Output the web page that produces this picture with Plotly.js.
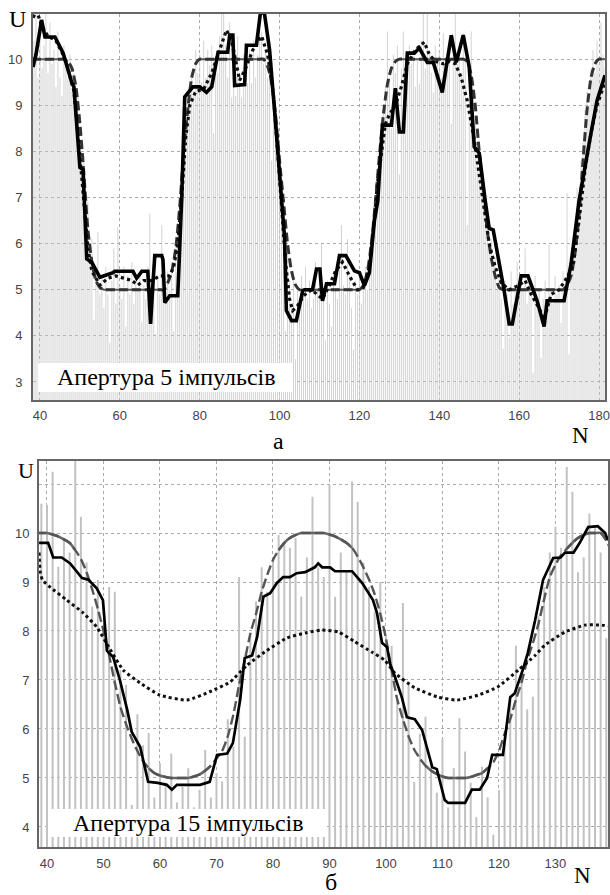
<!DOCTYPE html>
<html><head><meta charset="utf-8">
<script src="https://cdn.plot.ly/plotly-3.0.1.min.js"></script>
<style>html,body{margin:0;padding:0;background:#fff}#chart{width:610px;height:895px}</style>
</head><body><div id="chart"></div>
<script>
// ---------------- TOP PANEL (aperture 5) ----------------
const topTickN = [40, 60, 80, 100, 120, 140, 160, 180];
const topTickU = [3, 4, 5, 6, 7, 8, 9, 10];
const topLabel = "Апертура 5 імпульсів";

// noisy samples, N = 38.5, 39, 39.5 ... 181.5
const topBarStart = 38.5, topBarStep = 0.5;
const topBarU = [
  10.4, 11.2, 9.6, 10.9, 9.8, 10.3, 11.1, 9.7, 10.8, 9.9, 10.2, 9.4, 10.6, 9.6, 9.2, 10.3,
  9.9, 9.6, 10.1, 9.3, 9.7, 8.9, 9.2, 8.2, 7.7, 7.9, 6.6, 6.9, 5.8, 6.1, 4.35, 5.4, 6.25, 4.9,
  5.3, 4.6, 5.5, 4.9, 3.85, 5.2, 5.9, 4.7, 6.35, 5.1, 4.8, 5.5, 4.2, 5.3, 4.9, 5.6,
  4.7, 5.2, 5.0, 5.4, 4.3, 5.1, 4.8, 5.5, 6.65, 4.6, 5.2, 4.05, 5.3, 4.9, 6.4, 5.1,
  4.8, 5.4, 5.0, 5.6, 4.1, 5.9, 6.4, 7.0, 6.6, 8.3, 7.9, 9.2, 8.8, 9.6, 9.3, 10.2, 9.7, 10.1,
  9.5, 10.4, 9.6, 10.2, 9.87, 10.3, 8.4, 10.0, 9.7, 10.5, 11.3, 11.3, 10.3, 9.6, 10.8, 9.17,
  10.2, 9.2, 10.5, 9.7, 9.17, 10.1, 9.5, 9.47, 10.2, 9.48, 10.4, 9.6, 10.1, 11.3, 10.6, 9.9,
  10.2, 9.6, 9.9, 7.8, 9.0, 8.5, 7.9, 7.4, 6.9, 6.3, 4.1, 5.8, 5.2, 4.6, 5.4, 3.5,
  5.1, 4.7, 5.3, 4.9, 5.5, 4.8, 5.2, 4.6, 4.8, 5.6, 5.0, 5.3, 6.0, 4.9, 3.9, 5.2, 4.7,
  4.2, 5.4, 5.0, 4.8, 5.5, 6.4, 5.1, 4.9, 6.1, 5.3, 4.6, 3.7, 5.2, 4.9, 5.4, 4.7, 5.1,
  5.5, 5.0, 5.9, 6.3, 6.8, 6.4, 7.5, 7.9, 8.3, 8.9, 9.4, 10.6, 9.6, 8.5, 10.1, 9.7, 10.3, 7.5,
  9.8, 10.6, 10.1, 9.6, 10.3, 9.9, 10.2, 9.4, 10.0, 9.47, 10.4, 11.3, 9.8, 11.3, 10.1, 9.7, 9.28,
  10.3, 9.9, 10.2, 9.6, 10.56, 10.0, 9.8, 10.3, 8.6, 10.1, 11.3, 9.9, 10.2, 9.7, 10.56, 10.0, 6.4,
  10.0, 10.6, 9.2, 8.7, 8.2, 7.6, 7.9, 7.0, 6.8, 6.3, 5.9, 6.1, 5.5, 5.7, 5.0, 5.3,
  4.8, 3.72, 5.2, 4.9, 3.96, 5.4, 4.7, 5.1, 5.6, 4.8, 5.3, 5.0, 5.9, 4.7, 5.2, 4.9,
  3.2, 5.3, 4.6, 5.0, 3.52, 4.8, 5.2, 4.5, 5.97, 5.0, 4.7, 5.3, 4.9, 5.1, 4.28, 5.4,
  5.0, 7.1, 3.6, 5.6, 6.0, 6.4, 7.2, 6.9, 7.8, 8.2, 8.9, 9.3, 9.0, 9.8, 10.2, 9.7, 10.4, 9.9, 10.8, 10.1, 9.8
];

// true signal, N = 38 ... 182
const topTrueStart = 38;
const topTrueU = [
  10, 10, 10, 10, 10, 10, 10, 10, 10,
  9.95, 9.8, 9.4, 8.6, 7.5, 6.3, 5.6, 5.2, 5.05,
  5, 5, 5, 5, 5, 5, 5, 5, 5, 5, 5, 5, 5, 5, 5, 5,
  5.15, 5.4, 5.9, 6.8, 8.0, 8.9, 9.6, 9.9,
  10, 10, 10, 10, 10, 10, 10, 10, 10, 10, 10, 10, 10, 10, 10, 10, 10,
  9.85, 9.5, 8.8, 7.8, 6.9, 6.0, 5.4, 5.1,
  5, 5, 5, 5, 5, 5, 5, 5, 5, 5, 5, 5, 5, 5, 5, 5,
  5.1, 5.4, 6.0, 6.9, 7.9, 8.8, 9.45, 9.8, 9.95,
  10, 10, 10, 10, 10, 10, 10, 10, 10, 10, 10, 10, 10, 10, 10, 10, 10,
  9.95, 9.65, 9.0, 8.0, 7.2, 6.3, 5.7, 5.3, 5.05,
  5, 5, 5, 5, 5, 5, 5, 5, 5, 5, 5, 5, 5, 5, 5, 5,
  5.1, 5.3, 5.8, 6.6, 7.8, 8.9, 9.6, 9.9,
  10, 10, 10
];

// moving average (solid black)
const topMaN = [38.25, 39.0, 40.4, 41.25, 43.75, 45.8, 48.0, 48.5, 50.0, 50.8, 51.7, 53.0, 55.0, 56.2, 58.3, 58.7, 63.3, 64.2, 65.5, 67.0, 67.7, 68.3, 68.75, 70.5, 70.8, 71.25, 72.5, 74.5, 75.0, 75.5, 76.25, 78.3, 80.0, 81.7, 83.0, 84.2, 84.6, 87.0, 87.5, 88.3, 88.75, 91.25, 91.7, 94.2, 95.2, 96.2, 97.5, 99.2, 100.4, 101.25, 101.7, 103.0, 104.2, 105.8, 106.25, 108.25, 109.25, 110.1, 110.75, 111.75, 113.75, 115.0, 116.6, 118.75, 120.0, 121.25, 122.5, 123.75, 124.6, 125.75, 128.0, 129.0, 130.0, 131.0, 132.0, 133.75, 135.0, 137.0, 138.5, 140.75, 143.0, 144.25, 146.0, 147.5, 148.75, 150.0, 151.5, 152.5, 153.5, 156.25, 157.5, 158.3, 160.5, 162.2, 164.5, 166.25, 167.0, 171.25, 173.0, 175.0, 178.0, 179.5, 181.5];
const topMaU = [9.83, 10.1, 10.85, 10.48, 10.48, 10.13, 9.48, 9.40, 7.65, 7.60, 5.67, 5.59, 5.27, 5.30, 5.37, 5.40, 5.40, 5.25, 5.40, 5.40, 4.26, 5.15, 5.74, 5.74, 5.65, 4.72, 4.87, 4.87, 5.85, 7.0, 9.18, 9.40, 9.40, 9.28, 9.40, 10.0, 10.15, 10.15, 10.52, 10.52, 9.43, 9.45, 10.30, 10.30, 11.0, 11.0, 10.2, 8.4, 6.93, 6.13, 4.55, 4.33, 4.33, 4.98, 5.0, 5.0, 5.45, 5.45, 4.76, 5.13, 5.13, 5.74, 5.74, 5.41, 5.37, 5.09, 5.37, 6.5, 6.93, 8.57, 8.57, 9.37, 8.42, 8.42, 10.13, 10.13, 10.24, 9.93, 9.93, 9.28, 10.52, 9.93, 10.52, 9.83, 8.1, 7.96, 6.93, 6.33, 6.30, 4.98, 4.26, 4.26, 5.30, 5.30, 4.76, 4.20, 4.76, 4.76, 5.56, 6.93, 8.40, 9.10, 9.65];

// second filter (dotted)
const topDotN = [38.25, 39.2, 40.5, 42, 44, 45.5, 47, 48.5, 50, 51, 52, 53, 55, 57, 59, 61, 63, 64.5, 66, 68, 70, 72.5, 73.5, 74.5, 75.5, 76.5, 77.5, 79, 81, 83, 85, 86.7, 88, 89, 90, 91.5, 93.3, 95.5, 97, 98.5, 99.5, 100.5, 101.5, 102.5, 103.3, 104.5, 106, 108, 110.75, 112.5, 114, 115.75, 117.5, 119.5, 121, 122.5, 123.5, 124.5, 125.5, 126.5, 127.5, 129, 130.5, 132, 134, 136.25, 137.5, 139, 141, 142.5, 144, 145.5, 147, 148.75, 150, 151, 152.5, 154, 155.5, 157.5, 160, 161.5, 163, 165, 166.25, 168, 170, 171.5, 173.5, 175, 176.5, 178, 179.5, 181.5];
const topDotU = [10.9, 11.05, 10.7, 10.5, 10.4, 10.15, 9.8, 9.3, 7.9, 6.8, 5.9, 5.4, 5.1, 5.25, 5.3, 5.25, 5.2, 5.1, 5.2, 5.2, 5.3, 5.3, 5.5, 6.0, 7.0, 8.3, 9.0, 9.3, 9.35, 9.7, 10.2, 10.63, 10.4, 10.0, 9.54, 9.8, 10.2, 10.5, 10.1, 9.2, 8.0, 6.9, 5.6, 4.8, 4.55, 4.65, 4.87, 5.0, 4.8, 5.1, 5.4, 5.6, 5.3, 5.0, 5.05, 5.5, 6.3, 7.3, 8.0, 8.6, 8.8, 9.0, 9.4, 9.9, 10.2, 10.37, 10.1, 9.95, 9.9, 9.95, 9.9, 9.6, 9.1, 8.25, 7.5, 6.9, 6.0, 5.5, 5.15, 5.0, 5.1, 5.2, 4.9, 4.6, 4.35, 4.9, 5.0, 5.2, 5.5, 6.5, 7.6, 8.4, 9.0, 9.5];

// ---------------- BOTTOM PANEL (aperture 15) ----------------
const botTickN = [40, 50, 60, 70, 80, 90, 100, 110, 120, 130];
const botTickU = [4, 5, 6, 7, 8, 9, 10, 11];
const botTickText = ["4", "5", "6", "7", "8", "9", "10", ""];
const botLabel = "Апертура 15 імпульсів";

// noisy samples, N = 39 ... 139
const botBarStart = 39, botBarStep = 1;
const botBarU = [
  10.6, 10.57, 11.25, 9.31, 9.9, 9.6, 11.6, 10.33, 9.4, 8.5,
  9.04, 8.1, 8.9, 8.8, 7.2, 6.9, 4.45, 6.3, 5.67, 5.92,
  4.6, 5.3, 4.9, 5.5, 4.5, 4.82, 5.2, 4.4, 4.76, 5.57,
  4.6, 5.1, 4.93, 6.2, 5.64, 9.1, 5.84, 7.9, 8.6, 9.3,
  8.8, 9.5, 9.96, 9.78, 9.7, 9.9, 8.7, 9.5, 10.74, 9.3,
  9.1, 10.98, 8.7, 9.6, 9.2, 11.05, 10.64, 9.4, 8.9, 8.4,
  9.0, 7.9, 7.7, 6.6, 8.57, 6.9, 4.92, 5.9, 6.25, 5.3,
  4.7, 5.8, 4.4, 5.2, 6.22, 5.54, 4.9, 4.2, 5.23, 4.6,
  3.84, 4.75, 5.7, 6.6, 7.7, 7.1, 6.4, 6.66, 8.3, 8.9,
  9.6, 10.13, 9.7, 11.35, 10.84, 9.2, 9.5, 10.4, 10.13, 9.6,
  7.85, 10.2
];

// true signal, N = 38 ... 140
const botTrueStart = 38;
const botTrueU = [
  10, 10, 10, 9.97, 9.93, 9.87, 9.8, 9.65, 9.47, 9.2,
  8.85, 8.45, 8.0, 7.5, 6.95, 6.45, 6.1, 5.8, 5.55, 5.35,
  5.2, 5.1, 5.05, 5.02, 5.0, 5.0, 5.0, 5.0, 5.03, 5.07,
  5.15, 5.25, 5.4, 5.55, 5.85, 6.3, 6.9, 7.4, 7.95, 8.35,
  8.8, 9.15, 9.45, 9.65, 9.8, 9.9, 9.96, 10, 10, 10,
  10, 10, 9.97, 9.93, 9.87, 9.8, 9.7, 9.52, 9.3, 9.05,
  8.75, 8.35, 7.85, 7.2, 6.6, 6.2, 5.85, 5.58, 5.4, 5.25,
  5.15, 5.08, 5.03, 5.0, 5.0, 5.0, 5.0, 5.02, 5.06, 5.1,
  5.2, 5.32, 5.55, 5.9, 6.2, 6.6, 6.95, 7.4, 7.75, 8.15,
  8.65, 9.1, 9.35, 9.55, 9.68, 9.8, 9.9, 9.96, 10, 10,
  10, 9.85, 9.6
];

// moving average (solid black)
const botMaN = [38.6, 40.2, 41.1, 42.6, 44.1, 46.2, 47.3, 48.8, 49.9, 50.6, 51.7, 52.9, 54.2, 55.0, 56.5, 57.9, 59.6, 61.2, 62.1, 63.0, 67.1, 68.8, 70.1, 71.9, 72.9, 74.2, 75.0, 76.3, 77.2, 78.3, 79.5, 80.7, 81.8, 83.0, 84.2, 85.7, 87.4, 88.0, 88.7, 90.1, 91.0, 94.0, 95.8, 97.7, 98.4, 99.3, 100.2, 100.7, 101.6, 102.8, 103.7, 105.1, 106.4, 107.3, 108.2, 109.0, 110.4, 111.0, 114.0, 115.2, 116.6, 117.9, 118.8, 120.7, 122.0, 122.8, 124.2, 125.1, 126.4, 127.8, 129.6, 130.9, 131.7, 133.2, 134.3, 135.8, 137.5, 138.8, 139.3];
const botMaU = [9.8, 9.8, 9.5, 9.5, 9.38, 9.08, 9.05, 8.87, 8.63, 7.6, 7.47, 7.0, 6.39, 5.94, 5.63, 4.92, 4.90, 4.86, 4.76, 4.86, 4.86, 4.92, 5.47, 5.50, 5.71, 6.6, 7.45, 7.5, 7.88, 8.7, 8.77, 8.98, 9.1, 9.1, 9.18, 9.2, 9.3, 9.38, 9.3, 9.3, 9.22, 9.22, 8.98, 8.63, 8.37, 7.76, 7.67, 7.34, 7.06, 6.65, 6.24, 6.2, 5.98, 5.57, 5.22, 5.18, 4.55, 4.49, 4.49, 4.76, 4.76, 5.0, 5.47, 5.47, 6.65, 6.73, 7.2, 7.55, 8.22, 9.04, 9.49, 9.5, 9.6, 9.6, 9.8, 10.12, 10.14, 10.0, 9.85];

// second filter (dotted)
const botDotN = [38.6, 38.8, 39.2, 40.5, 43.5, 46.4, 48.8, 51.2, 53.5, 56.5, 60.0, 64.8, 68.8, 72.4, 75.4, 78.9, 82.5, 85.7, 88.7, 91.6, 94.5, 97.5, 99.8, 101.6, 105.1, 109.2, 112.6, 116.3, 119.8, 123.4, 126.4, 128.1, 131.7, 135.2, 138.2, 139.3];
const botDotU = [9.6, 9.2, 9.04, 8.9, 8.63, 8.37, 8.08, 7.62, 7.2, 6.94, 6.69, 6.59, 6.76, 6.96, 7.3, 7.6, 7.86, 7.96, 8.02, 7.98, 7.78, 7.57, 7.4, 7.14, 6.84, 6.65, 6.59, 6.69, 6.86, 7.2, 7.5, 7.71, 7.98, 8.12, 8.12, 8.1];

// ---------------- build ----------------
function seq(start, step, n) { const a = []; for (let i = 0; i < n; i++) a.push(start + step * i); return a; }
function stems(xs, ys, base) {
  const X = [], Y = [];
  for (let i = 0; i < xs.length; i++) { X.push(xs[i], xs[i], null); Y.push(base, ys[i], null); }
  return { x: X, y: Y };
}
function plateau(ys, hi, lo) { return ys.map(v => (v >= hi || v <= lo) ? v : null); }

const topBarN = seq(topBarStart, topBarStep, topBarU.length);
const topTrueN = seq(topTrueStart, 1, topTrueU.length);
const botBarN = seq(botBarStart, botBarStep, botBarU.length);
const botTrueN = seq(botTrueStart, 1, botTrueU.length);

const tb = stems(topBarN, topBarU, 0);
const bb = stems(botBarN, botBarU, 0);

const traces = [
  { x: tb.x, y: tb.y, xaxis: 'x', yaxis: 'y', mode: 'lines', line: { color: '#c6c6c6', width: 0.8 }, hoverinfo: 'skip' },
  { x: topTrueN, y: plateau(topTrueU, 9.95, 5.05), xaxis: 'x', yaxis: 'y', mode: 'lines', line: { color: '#555', width: 2 }, connectgaps: false },
  { x: topTrueN, y: topTrueU, xaxis: 'x', yaxis: 'y', mode: 'lines', line: { color: '#333', width: 3, dash: '9px,4px', shape: 'spline', smoothing: 0.6 } },
  { x: topDotN, y: topDotU, xaxis: 'x', yaxis: 'y', mode: 'lines', line: { color: '#111', width: 3.2, dash: 'dot' } },
  { x: topMaN, y: topMaU, xaxis: 'x', yaxis: 'y', mode: 'lines', line: { color: '#000', width: 3.6 } },

  { x: bb.x, y: bb.y, xaxis: 'x2', yaxis: 'y2', mode: 'lines', line: { color: '#c2c2c2', width: 2 }, hoverinfo: 'skip' },
  { x: botTrueN, y: plateau(botTrueU, 9.65, 5.3), xaxis: 'x2', yaxis: 'y2', mode: 'lines', line: { color: '#666', width: 2.6, shape: 'spline', smoothing: 0.6 }, connectgaps: false },
  { x: botTrueN, y: botTrueU, xaxis: 'x2', yaxis: 'y2', mode: 'lines', line: { color: '#555', width: 2.4, dash: '10px,4px', shape: 'spline', smoothing: 0.6 } },
  { x: botDotN, y: botDotU, xaxis: 'x2', yaxis: 'y2', mode: 'lines', line: { color: '#111', width: 3, dash: 'dot', shape: 'spline', smoothing: 0.5 } },
  { x: botMaN, y: botMaU, xaxis: 'x2', yaxis: 'y2', mode: 'lines', line: { color: '#000', width: 2.7 } }
];

const SERIF = 'Liberation Serif';
const tickFont = { family: 'Liberation Sans', size: 13, color: '#444' };
const axBase = {
  showgrid: true, gridcolor: '#aaaaaa', gridwidth: 1, griddash: 'dot', zeroline: false,
  showline: true, mirror: true, linecolor: '#666', linewidth: 2, ticks: '', tickfont: tickFont,
  fixedrange: true
};
function note(text, px, py, size) {
  return { text: text, xref: 'paper', yref: 'paper', x: px / 610, y: 1 - py / 895, showarrow: false,
           font: { family: SERIF, size: size, color: '#000' }, xanchor: 'center', yanchor: 'middle' };
}

const layout = {
  width: 610, height: 895, margin: { l: 0, r: 0, t: 0, b: 0 },
  font: { family: SERIF, size: 13, color: '#000' },
  paper_bgcolor: '#fff', plot_bgcolor: '#fff', showlegend: false,
  xaxis: Object.assign({}, axBase, { domain: [0.0541, 0.9918], range: [38.25, 181.5], anchor: 'y', tickvals: topTickN, ticklabelstandoff: 2 }),
  yaxis: Object.assign({}, axBase, { domain: [0.5531, 0.9844], range: [2.61, 10.98], anchor: 'x', tickvals: topTickU, ticklabelstandoff: 6 }),
  xaxis2: Object.assign({}, axBase, { domain: [0.0639, 0.9967], range: [38.58, 139.3], anchor: 'y2', tickvals: botTickN, ticklabelstandoff: 3 }),
  yaxis2: Object.assign({}, axBase, { domain: [0.0536, 0.4849], range: [3.59, 11.47], anchor: 'x2', tickvals: botTickU, ticktext: botTickText, ticklabelstandoff: 5 }),
  shapes: [
    { type: 'rect', xref: 'paper', yref: 'paper', x0: 38 / 610, x1: 293 / 610, y0: 1 - 392 / 895, y1: 1 - 363 / 895, fillcolor: '#fff', line: { width: 0 }, layer: 'above' },
    { type: 'rect', xref: 'paper', yref: 'paper', x0: 50 / 610, x1: 327 / 610, y0: 1 - 837 / 895, y1: 1 - 809 / 895, fillcolor: '#fff', line: { width: 0 }, layer: 'above' }
  ],
  annotations: [
    note(topLabel, 166, 377, 24),
    note(botLabel, 188, 823, 24),
    note('U', 17, 19, 24),
    note('N', 580, 435, 23),
    note('а', 278, 441, 24),
    note('U', 26, 470, 22),
    note('N', 582, 875, 23),
    note('б', 331, 882, 24)
  ]
};

Plotly.newPlot('chart', traces, layout, { staticPlot: true, displayModeBar: false });
</script></body></html>
